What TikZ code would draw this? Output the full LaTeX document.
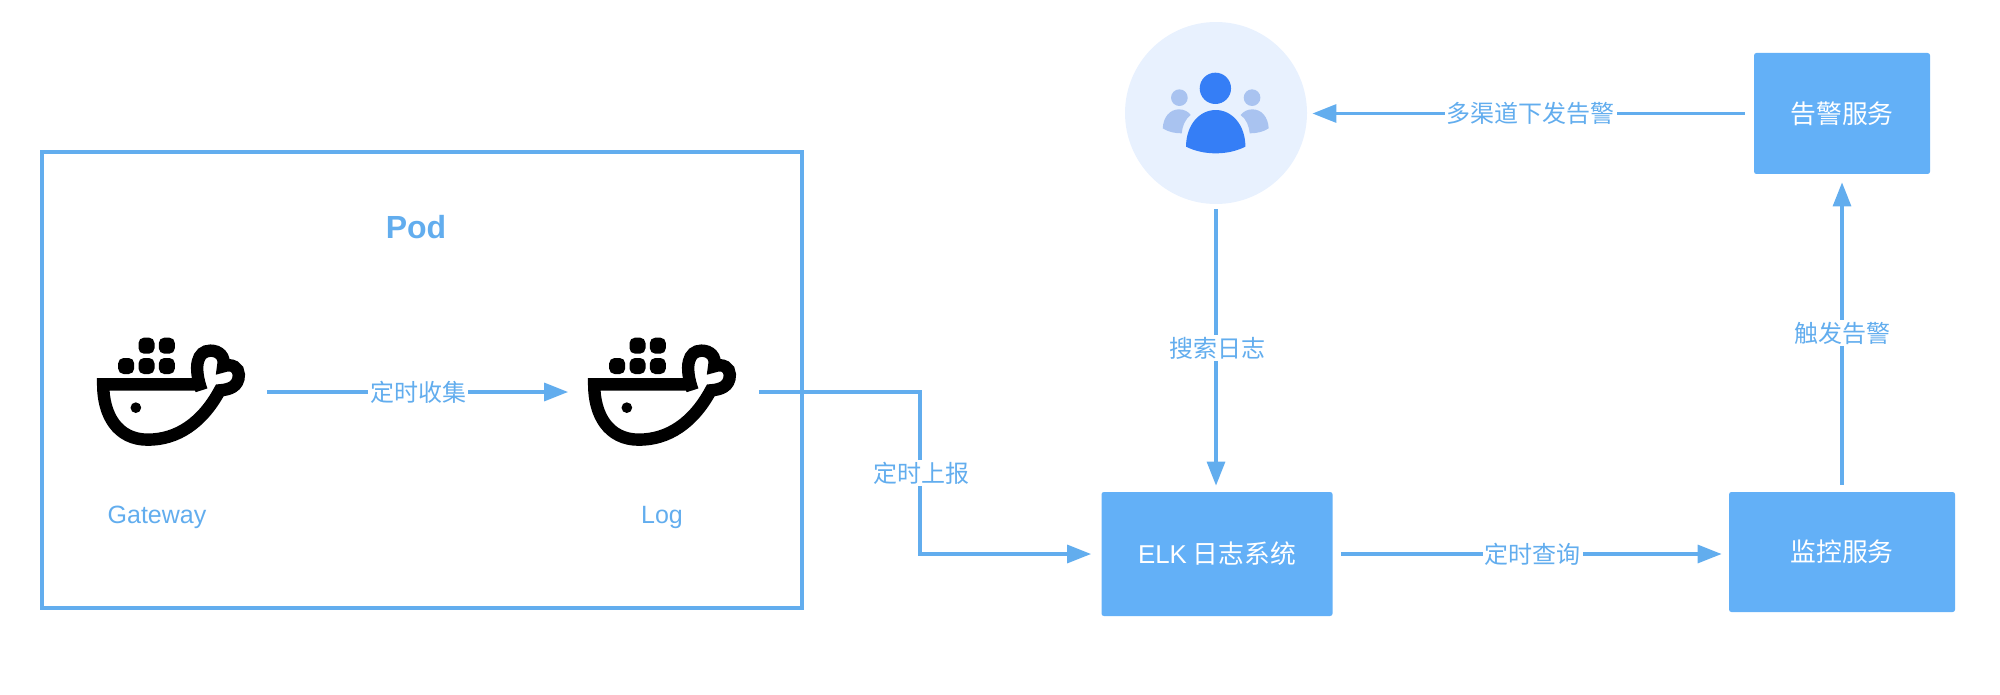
\documentclass[tikz,border=0pt]{standalone}
\usepackage{fontspec}
\setmainfont{Liberation Sans}
\newfontfamily\cjk{Noto Sans CJK SC}
\usetikzlibrary{arrows.meta}
\definecolor{linec}{HTML}{62ADEE}
\definecolor{boxc}{HTML}{63B0F7}
\definecolor{circc}{HTML}{E8F1FE}
\definecolor{darkp}{HTML}{357EF6}
\definecolor{lightp}{HTML}{A9C3F0}
\tikzset{
  conn/.style={draw=linec,line width=1.6pt,-{Triangle[length=12pt,width=9pt]},line join=miter},
  lab/.style={fill=white,text=linec,inner xsep=1pt,inner ysep=1pt,xshift=0.9pt,font=\fontsize{12}{14}\selectfont\cjk},
  txt/.style={text=linec,inner sep=0pt,font=\fontsize{12.5}{15}\selectfont},
  svc/.style={fill=boxc,rounded corners=1.2pt,text=white,inner sep=0pt,font=\fontsize{12.9}{15}\selectfont\cjk},
  ghost/.style={minimum width=74.5pt,minimum height=54.5pt,inner sep=0pt},
  whale/.pic={
    \begin{scope}[x=0.16667pt,y=-0.16667pt,shift={(-331.5,-277)}]
      \draw[black,line width=6.2pt,line join=miter]
        (420,254) -- (128,254)
        .. controls (128,345) and (170,420) .. (262,420)
        .. controls (350,420) and (425,370) .. (478,272)
        .. controls (505,270) and (535,262) .. (535,225)
        .. controls (535,205) and (515,190) .. (488,200)
        .. controls (495,170) and (475,153) .. (450,153)
        .. controls (410,153) and (398,200) .. (423,272);
      \foreach \cx/\cy in {258/138,319/138,197/199,258/199,319/199}
        \fill[black,rounded corners=2.7pt] (\cx-24,\cy-24) rectangle (\cx+24,\cy+24);
      \fill[black] (226,324) circle[radius=16];
    \end{scope}
  }
}
\begin{document}
\begin{tikzpicture}[x=0.5pt,y=-0.5pt]
\useasboundingbox (0,0) rectangle (2000,695);
\node[draw=linec,line width=2pt,minimum width=380pt,minimum height=228pt,inner sep=0pt] (pod) at (422,380) {};
\node[text=linec,inner sep=0pt,font=\fontsize{16}{19}\selectfont\bfseries] (podt) at (416,227) {Pod};
\node[ghost] (gw) at (171,392) {};
\node[ghost] (logn) at (662,392) {};
\pic at (gw.center) {whale};
\pic at (logn.center) {whale};
\node[txt] (gwt) at (157,517) {Gateway};
\node[txt] (logt) at (662,517) {Log};

\node[svc,minimum width=115.5pt,minimum height=62pt] (elk) at (1217,554) {{\fontspec{Liberation Sans}ELK} 日志系统};
\node[svc,minimum width=113pt,minimum height=60pt] (mon) at (1842,552) {监控服务};
\node[svc,minimum width=88pt,minimum height=60.5pt] (alert) at (1842,113.5) {告警服务};
\node[circle,fill=circc,minimum size=91pt,inner sep=0pt] (users) at (1216,113) {};
\begin{scope}[x=0.16667pt,y=-0.16667pt,shift={(3300,0)}]
  \fill[lightp] (238,293) circle[radius=25];
  \fill[lightp] (456,293) circle[radius=25];
  \fill[lightp] (188,385) .. controls (190,350) and (210,328) .. (237,328) .. controls (252,328) and (265,335) .. (272,345) .. controls (255,358) and (247,378) .. (245,400) .. controls (225,400) and (205,396) .. (188,385) -- cycle;
  \fill[lightp] (506,385) .. controls (504,350) and (484,328) .. (457,328) .. controls (442,328) and (429,335) .. (422,345) .. controls (439,358) and (447,378) .. (449,400) .. controls (469,400) and (489,396) .. (506,385) -- cycle;
  \fill[darkp] (346,265) circle[radius=47];
  \fill[darkp] (258,440) .. controls (258,375) and (298,330) .. (347,330) .. controls (396,330) and (436,375) .. (436,440) .. controls (410,453) and (380,460) .. (347,460) .. controls (314,460) and (284,453) .. (258,440) -- cycle;
\end{scope}

\draw[conn,shorten <=10.5pt,shorten >=9.5pt] (gw.east) -- node[lab,pos=0.5] (l1) {定时收集} (logn.west);
\coordinate (bend) at (920,473);
\draw[conn,shorten <=11pt,shorten >=5pt] (logn.east) -| (bend) node[lab] (l2) {定时上报} |- (elk.west);
\draw[conn,shorten <=2.5pt,shorten >=3pt] (users.south) -- node[lab,pos=0.5] (l3) {搜索日志} (users.south |- elk.north);
\draw[conn,shorten <=4pt,shorten >=3.5pt] (elk.east) -- node[lab,pos=0.5] (l4) {定时查询} (elk.east -| mon.west);
\draw[conn,shorten <=3.5pt,shorten >=4pt] (mon.north) -- node[lab,pos=0.5,xshift=-0.9pt] (l5) {触发告警} (alert.south);
\draw[conn,shorten <=4.5pt,shorten >=2.5pt] (alert.west) -- node[lab,pos=0.5,xshift=-0.9pt] (l6) {多渠道下发告警} (alert.west -| users.east);
\end{tikzpicture}
\end{document}
